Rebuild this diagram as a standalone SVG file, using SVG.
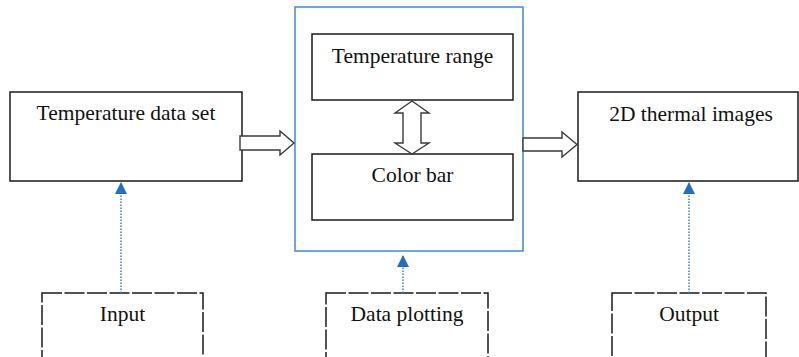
<svg xmlns="http://www.w3.org/2000/svg" width="799" height="357" viewBox="0 0 799 357">
  <style>
    .box { fill: #ffffff; stroke: #1a1a1a; stroke-width: 1.5; }
    .group { fill: #ffffff; stroke: #3b8ad9; stroke-width: 1.5; }
    .dash { fill: #ffffff; stroke: #1a1a1a; stroke-width: 1.5; stroke-dasharray: 20 2.5; }
    .label { font-family: "Liberation Serif", "Times New Roman", serif; font-size: 21.5px; fill: #111111; text-anchor: middle; }
    .block { fill: #ffffff; stroke: #3a3a3a; stroke-width: 1.4; stroke-linejoin: miter; }
    .dotted { fill: none; stroke: #4a86c8; stroke-width: 1.6; stroke-dasharray: 1.5 1.5; }
  </style>
  <defs>
    <marker id="tip" viewBox="0 0 12 12" refX="11" refY="6" markerWidth="12" markerHeight="12" markerUnits="userSpaceOnUse" orient="auto">
      <path d="M0,0 L12,6 L0,12 Z" fill="#1f6fc5"/>
    </marker>
  </defs>

  <!-- source data -->
  <g id="temperature-data-set">
    <rect class="box" x="10" y="92" width="232" height="89"/>
    <text class="label" x="126" y="120">Temperature data set</text>
  </g>

  <!-- plotting stage with its two parts -->
  <g id="plotting-stage">
    <rect class="group" x="295" y="7" width="228" height="244"/>
  </g>
  <g id="temperature-range">
    <rect class="box" x="312" y="34" width="201" height="66"/>
    <text class="label" x="412.5" y="63">Temperature range</text>
  </g>
  <g id="color-bar">
    <rect class="box" x="312" y="154" width="201" height="66"/>
    <text class="label" x="412.5" y="182">Color bar</text>
  </g>

  <!-- result -->
  <g id="thermal-images">
    <rect class="box" x="578" y="92" width="220" height="89"/>
    <text class="label" x="691" y="121">2D thermal images</text>
  </g>

  <!-- stage labels -->
  <g id="input">
    <rect class="dash" x="42" y="293" width="161" height="80"/>
    <text class="label" x="122.5" y="321">Input</text>
  </g>
  <g id="data-plotting">
    <rect class="dash" x="326" y="293" width="162" height="80"/>
    <text class="label" x="407" y="321">Data plotting</text>
  </g>
  <g id="output">
    <rect class="dash" x="612" y="293" width="154" height="80"/>
    <text class="label" x="689" y="321">Output</text>
  </g>

  <g id="connectors">
    <!-- hollow block arrows -->
    <polygon class="block" points="240,136 280,136 280,131 294,143 280,155 280,150 240,150"/>
    <polygon class="block" points="523,138 562,138 562,132 577,144.5 562,157 562,151 523,151"/>
    <polygon class="block" points="412,101 429,113 421,113 421,143 429,143 412,154 395,143 403,143 403,113 395,113"/>
    <!-- dotted stage links -->
    <line class="dotted" x1="121" y1="293" x2="121" y2="183" marker-end="url(#tip)"/>
    <line class="dotted" x1="403" y1="293" x2="403" y2="256" marker-end="url(#tip)"/>
    <line class="dotted" x1="689" y1="293" x2="689" y2="183" marker-end="url(#tip)"/>
  </g>
</svg>
